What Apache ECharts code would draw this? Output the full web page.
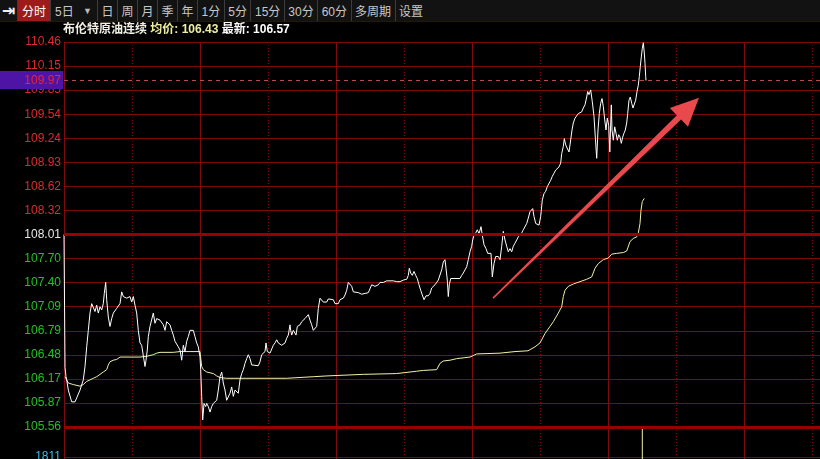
<!DOCTYPE html>
<html lang="zh-CN">
<head>
<meta charset="utf-8">
<title>布伦特原油连续 分时</title>
<script src="https://cdn.jsdelivr.net/npm/echarts@6.0.0/dist/echarts.min.js"></script>
<style>
html,body{margin:0;padding:0;background:#000;overflow:hidden;}
#wrap{position:relative;width:820px;height:459px;overflow:hidden;}
#chart{position:absolute;left:0;top:0;width:820px;height:490px;}
#tb{position:absolute;left:0;top:0;width:820px;height:21px;background:#121212;border-bottom:1px solid #4a0505;display:flex;font-family:"Liberation Sans","Noto Sans CJK SC",sans-serif;font-size:12px;color:#c8c8c8;z-index:5;}
#tb .it{display:flex;align-items:center;padding:0 3.5px;border-left:1px solid #3c3c3c;white-space:nowrap;}
#tb .icon{width:17px;justify-content:center;border-left:none;padding:0;color:#f0f0f0;font-family:"DejaVu Sans";font-size:16px;font-weight:bold;}
#tb .sel{background:#9e1b1b;color:#fff;padding:0 4px;}
#tb .dd{width:37px;padding:0 5px 0 4px;justify-content:space-between;}
#tb .dd i{font-style:normal;font-size:9px;color:#bbb;}
</style>
</head>
<body>
<div id="wrap"><div id="chart"></div><div id="tb"></div></div>
<script>
// ---------------- data ----------------
const TOOLBAR_ITEMS = ['分时','5日','日','周','月','季','年','1分','5分','15分','30分','60分','多周期','设置'];
const TOOLBAR_SELECTED = 0;
const TOOLBAR_DROPDOWN = 1;

const INSTRUMENT = '布伦特原油连续';
const AVG_PRICE = '106.43';
const LATEST_QUOTE = '106.57';
const LAST_PRICE = 109.97;

// price axis tick labels (bottom -> top); index 8 is the reference (previous close) line
const Y_TICKS = ['105.56','105.87','106.17','106.48','106.79','107.09','107.40','107.70','108.01','108.32','108.62','108.93','109.24','109.54','109.85','110.15','110.46'];
const REF_INDEX = 8;

// time axis: bars per trading day, bars visible in window
const BARS_PER_DAY = 136;
const VISIBLE_BARS = 756;

// [bar, price]
const PRICE = [
[0,108.01],[1,106.32],[2,106.20],[2.7,106.16],[4.3,106.03],[7.7,105.88],[11,105.88],[12.7,105.93],[16,106.03],[19.3,106.16],[21,106.33],[22.7,106.58],[24.3,106.79],[26,107.01],[27.7,107.13],[29.3,107.11],[31,107.03],[32.7,107.11],[34.3,107.01],[36,107.09],[37.7,107.05],[39.3,107.13],[40.3,107.26],[41.7,107.40],[42.7,107.18],[44.3,106.96],[46,106.84],[47.7,106.94],[49.3,107.01],[51,107.03],[52.7,107.07],[54.3,107.05],[56,107.13],[57.7,107.28],[59.3,107.22],[61,107.24],[62.7,107.20],[64.3,107.18],[66,107.22],[67.7,107.15],[69.3,107.22],[71,107.11],[72.7,107.01],[74.3,106.79],[76,106.63],[77.7,106.60],[79.3,106.58],[81,106.33],[82,106.41],[83.3,106.54],[84.3,106.71],[86,106.84],[87.7,106.82],[89.3,107.01],[91,106.88],[92.7,106.94],[94.3,106.92],[96,106.92],[99.3,106.86],[101,106.79],[102.7,106.90],[104.3,106.92],[106,106.86],[107.7,106.79],[109.3,106.73],[111,106.65],[112.7,106.67],[114.3,106.58],[116,106.54],[117.7,106.41],[119.3,106.60],[121,106.52],[122.7,106.65],[124.3,106.71],[126,106.79],[129.3,106.79],[131,106.71],[132.7,106.63],[134.3,106.58],[136,106.45],
[136.7,106.29],[137.7,105.95],[138.7,105.65],[140,105.86],[141.7,105.82],[142.7,105.86],[144.3,105.82],[146,105.75],[147.7,105.82],[149.3,105.86],[151,105.84],[152.7,105.90],[154.3,106.03],[156,106.20],[157.7,106.26],[159.3,106.12],[161,106.03],[162.7,105.90],[164.3,105.90],[166,105.99],[167.7,106.07],[169.3,105.95],[171,106.03],[172.7,106.05],[174.3,105.99],[176,106.16],[177.7,106.24],[179.3,106.29],[181,106.37],[182.7,106.43],[184.3,106.48],[186,106.43],[187.7,106.35],[189.3,106.34],[194.3,106.34],[196,106.39],[197.7,106.48],[199.3,106.50],[201,106.52],[202,106.63],[203.3,106.52],[206,106.50],[207.7,106.50],[209.3,106.60],[211,106.63],[212.7,106.67],[214.3,106.63],[216,106.65],[217.7,106.60],[219.3,106.58],[221,106.63],[222.7,106.69],[224.3,106.73],[226,106.86],[226.7,106.79],[227.7,106.73],[229.3,106.79],[231,106.79],[232,106.73],[233.3,106.84],[235.3,106.82],[236,106.86],[237.7,106.90],[239.3,106.92],[241,106.94],[242.7,106.96],[244.3,106.99],[246,106.92],[247.7,106.86],[249.3,106.79],[251,106.77],[252.7,106.84],[254.3,107.07],[256,107.20],[257.7,107.18],[259.3,107.15],[261,107.13],[262.7,107.15],[264.3,107.19],[266,107.18],[269.3,107.18],[271,107.13],[272.7,107.13],
[274.3,107.13],[276,107.18],[277.7,107.20],[279.3,107.20],[281,107.24],[282.7,107.30],[284.3,107.40],[286,107.40],[287.7,107.35],[289.3,107.28],[291,107.27],[294.3,107.27],[297.7,107.25],[299.3,107.27],[301,107.26],[302.7,107.28],[304.3,107.27],[306,107.28],[307.7,107.37],[309.3,107.35],[311,107.35],[312.7,107.37],[314.3,107.37],[316,107.40],[319.3,107.40],[321,107.41],[322.7,107.42],[324.3,107.43],[326,107.42],[327.7,107.41],[329.3,107.42],[331,107.41],[332.7,107.41],[334.3,107.39],[336,107.41],[337.7,107.42],[339.3,107.43],[341,107.43],[342.7,107.44],[344.3,107.49],[345.3,107.58],[346.7,107.52],[348.3,107.49],[350,107.54],[351.7,107.49],[353.3,107.45],[355,107.37],[356.7,107.30],[358.3,107.24],[360,107.18],[362,107.23],[364.3,107.23],[366,107.26],[367.7,107.33],[369.3,107.35],[371,107.37],[372.7,107.39],[374.3,107.43],[376,107.45],[377.7,107.56],[379.3,107.66],[381,107.69],[382,107.58],[383.3,107.43],[384.3,107.22],[385.3,107.37],[386.7,107.45],[396,107.45],[397.7,107.49],[399.3,107.52],[401,107.54],[402.7,107.60],[404.3,107.69],[406,107.79],[407.7,107.86],[408.7,107.94],[410,108.00],[411.7,108.03],[413.3,108.07],[415,108.02],[417,108.11],[418.3,108.00],[420,107.88],[422,107.83],[423.7,107.77],[425.3,107.75],[427,107.77],[428.3,107.47],[430,107.64],[431.7,107.73],[434.3,107.73],[436,107.69],[437.7,107.86],[439.3,108.05],[441,107.94],[442.7,107.86],[444.3,107.79],[446,107.83],[447.7,107.79],[449.3,107.86],[451,107.90],[452.7,107.94],[454.3,107.98],[456,108.00],[457.7,108.03],[459.3,108.07],[461,108.09],[462.7,108.15],[464.3,108.22],[466,108.30],[468.7,108.34],[470,108.24],[471.7,108.15],[473.3,108.13],[475,108.13],[476.7,108.24],[478.3,108.45],[480,108.53],[481.7,108.56],[483.3,108.62],[485,108.64],[486.7,108.70],[488.3,108.75],[490,108.79],[491.7,108.83],[493.3,108.81],[495,108.87],[496.7,108.92],[497.7,109.04],[499.3,109.13],[500.3,109.23],[501.7,109.15],[502.7,109.13],[503.7,109.17],[505,109.06],[506,109.15],[507,109.17],[508,109.34],[509.3,109.43],[511,109.49],[512.7,109.51],[514.3,109.55],[516,109.53],[517.7,109.57],[519.3,109.62],[521,109.66],[522.7,109.76],[523.7,109.83],[525,109.79],[526.7,109.85],[528.3,109.70],[530,109.51],[531.3,109.25],[532.7,108.98],[534,109.34],[535.3,109.55],[536.7,109.68],[538,109.74],[539.3,109.64],[540.7,109.47],[542,109.34],[543.3,109.49],[544.7,109.40],[545.5,109.15],[545.8,109.06],[547.3,109.66],[548,109.34],[549.3,109.21],[550.7,109.38],[552,109.30],[553.3,109.21],[554.7,109.28],[556,109.25],[557.3,109.17],[558.7,109.25],[560,109.30],[561.3,109.34],[562.7,109.43],[563.7,109.55],[565,109.72],[566.3,109.76],[567.7,109.68],[569,109.62],[570.3,109.64],[571.7,109.72],[573,109.83],[574.3,109.91],[575.3,110.02],[576.3,110.15],[577.3,110.27],[578.3,110.38],[579.3,110.45],[580.3,110.32],[581,110.19],[581.7,110.02],[582,109.97]
];

// [bar, average price]
const AVG = [
[1,106.20],[4.3,106.12],[9.3,106.10],[16,106.08],[19.3,106.10],[22.7,106.14],[26,106.16],[29.3,106.18],[32.7,106.20],[36,106.23],[39.3,106.26],[42.7,106.29],[44.3,106.35],[46,106.39],[49.3,106.41],[52.7,106.42],[56,106.45],[76,106.45],[82.7,106.46],[89.3,106.48],[92.7,106.50],[96,106.51],[109.3,106.51],[116,106.52],[136,106.52],
[137.7,106.33],[139.3,106.29],[142.7,106.26],[149.3,106.24],[152.7,106.21],[156,106.19],[162.7,106.18],[222.7,106.18],[249.3,106.20],[262.7,106.21],[299.3,106.23],[332.7,106.24],[346,106.26],[352.7,106.27],[359.3,106.28],[372.7,106.29],[376,106.37],[379.3,106.40],[386,106.41],[392.7,106.43],[406,106.45],[412.7,106.49],[436,106.50],[451,106.52],[464,106.53],[471,106.58],[476,106.63],[481,106.75],[486,106.84],[489.3,106.90],[494.3,107.01],[497.7,107.09],[499.3,107.22],[501,107.30],[504.3,107.35],[509.3,107.38],[516,107.41],[522.7,107.44],[527.7,107.47],[531,107.58],[534.3,107.64],[539.3,107.69],[544.3,107.71],[547.7,107.76],[552.7,107.77],[559.3,107.78],[562.7,107.80],[566,107.92],[569.3,107.96],[572.7,107.98],[574.3,108.03],[576,108.15],[577,108.32],[578.3,108.43],[580.3,108.47]
];

// [bar, volume]
const VOLUME = [[578.3, 3622]];

// annotation arrow [bar, price]: tail and tip
const ARROW_FROM = [429, 107.20];
const ARROW_TO = [635, 109.75];

// ---------------- toolbar ----------------
const tb = document.getElementById('tb');
const icon = document.createElement('div');
icon.className = 'it icon'; icon.textContent = '⇥';
tb.appendChild(icon);
TOOLBAR_ITEMS.forEach((label, i) => {
  const d = document.createElement('div');
  d.className = 'it' + (i === TOOLBAR_SELECTED ? ' sel' : '') + (i === TOOLBAR_DROPDOWN ? ' dd' : '');
  if (i === TOOLBAR_DROPDOWN) {
    const s = document.createElement('span'); s.textContent = label;
    const a = document.createElement('i'); a.textContent = '▼';
    d.appendChild(s); d.appendChild(a);
  } else d.textContent = label;
  tb.appendChild(d);
});

// ---------------- chart ----------------
const FONT = '"Liberation Sans", "Noto Sans CJK SC", sans-serif';
const GRID = '#7e0a0d';
const chart = echarts.init(document.getElementById('chart'), null, {renderer: 'canvas'});
const volMax = Math.max.apply(null, VOLUME.map(d => d[1]));
const tickVals = Y_TICKS.map(Number);

function xAxisDef(gridIndex, interval, dotted) {
  return {
    type: 'value', gridIndex, min: 0, max: VISIBLE_BARS, interval,
    axisLine: {show: false}, axisTick: {show: false}, axisLabel: {show: false},
    splitLine: {show: true, lineStyle: {color: GRID, width: 1, type: dotted ? [1, 2] : 'solid'}}
  };
}

const option = {
  backgroundColor: '#000',
  animation: false,
  title: {
    text: `{n|${INSTRUMENT}} {a|均价: ${AVG_PRICE}} {l|最新: ${LATEST_QUOTE}}`,
    left: 63, top: 24, padding: 0,
    textStyle: {
      fontSize: 12, fontFamily: FONT, color: '#eee',
      rich: {
        n: {color: '#f0f0e4', fontSize: 12, fontFamily: FONT},
        a: {color: '#eeeea2', fontSize: 12, fontFamily: FONT},
        l: {color: '#ffffff', fontSize: 12, fontFamily: FONT}
      }
    }
  },
  grid: [
    {left: 64, right: 0, top: 42, height: 385},
    {left: 64, right: 0, top: 427, height: 60}
  ],
  xAxis: [
    xAxisDef(0, BARS_PER_DAY / 2, true),
    xAxisDef(0, BARS_PER_DAY, false),
    xAxisDef(1, BARS_PER_DAY / 2, true),
    xAxisDef(1, BARS_PER_DAY, false)
  ],
  yAxis: [
    {type: 'value', gridIndex: 0, min: tickVals[0], max: tickVals[tickVals.length - 1], show: false},
    {
      type: 'value', gridIndex: 0, min: 0, max: Y_TICKS.length - 1, interval: 1, position: 'left', offset: 1,
      axisLine: {show: true, lineStyle: {color: GRID}},
      axisTick: {show: false},
      axisLabel: {
        margin: 2, fontSize: 12, fontFamily: FONT,
        formatter: v => Y_TICKS[v],
        color: v => (Number(v) > REF_INDEX ? '#dd2a2e' : Number(v) === REF_INDEX ? '#e6e6e6' : '#22c126')
      },
      splitLine: {show: true, lineStyle: {color: GRID, width: 1}}
    },
    {
      type: 'value', gridIndex: 1, min: 0, max: volMax, interval: volMax / 2, position: 'left', offset: 1,
      axisLine: {show: true, lineStyle: {color: GRID}},
      axisTick: {show: false},
      axisLabel: {margin: 2, fontSize: 12, fontFamily: FONT, color: '#3cbfe8', showMaxLabel: false, showMinLabel: false,
        formatter: v => String(v)},
      splitLine: {show: true, lineStyle: {color: GRID, width: 1}}
    }
  ],
  series: [
    {
      name: '均价', type: 'line', xAxisIndex: 0, yAxisIndex: 0, z: 3,
      data: AVG, showSymbol: false, symbol: 'none',
      lineStyle: {color: '#f2f0a6', width: 1},
      markLine: {
        silent: true, symbol: 'none', label: {show: false}, animation: false,
        data: [
          {yAxis: tickVals[REF_INDEX], lineStyle: {color: '#960000', width: 3, type: 'solid'}},
          {yAxis: tickVals[0], lineStyle: {color: '#960000', width: 3, type: 'solid'}},
          {yAxis: LAST_PRICE, lineStyle: {color: '#b84a4a', width: 1, type: [4, 4]}}
        ]
      }
    },
    {
      name: '价格', type: 'line', xAxisIndex: 0, yAxisIndex: 0, z: 4,
      data: PRICE, showSymbol: false, symbol: 'none',
      lineStyle: {color: '#ffffff', width: 1}
    },
    {
      name: '成交量', type: 'bar', xAxisIndex: 2, yAxisIndex: 2,
      data: VOLUME, barWidth: 1, itemStyle: {color: '#f2f0a6'}
    }
  ]
};
chart.setOption(option);

// last-price tag on the axis and annotation arrow, positioned through the chart's own scales
const py = chart.convertToPixel({yAxisIndex: 0}, LAST_PRICE);
const p0 = chart.convertToPixel({xAxisIndex: 0, yAxisIndex: 0}, ARROW_FROM);
const p1 = chart.convertToPixel({xAxisIndex: 0, yAxisIndex: 0}, ARROW_TO);
const dx = p1[0] - p0[0], dy = p1[1] - p0[1], len = Math.hypot(dx, dy);
const ux = dx / len, uy = dy / len, nx = -uy, ny = ux;
const headLen = 28, headW = 26, neckW = 6, tailW = 1.5;
const neck = [p1[0] - ux * headLen, p1[1] - uy * headLen];
const arrowPts = [
  [p0[0] + nx * tailW / 2, p0[1] + ny * tailW / 2],
  [neck[0] + nx * neckW / 2, neck[1] + ny * neckW / 2],
  [neck[0] + nx * headW / 2, neck[1] + ny * headW / 2],
  [p1[0], p1[1]],
  [neck[0] - nx * headW / 2, neck[1] - ny * headW / 2],
  [neck[0] - nx * neckW / 2, neck[1] - ny * neckW / 2],
  [p0[0] - nx * tailW / 2, p0[1] - ny * tailW / 2]
];
chart.setOption({
  graphic: [
    {type: 'polygon', z: 90, shape: {points: arrowPts}, style: {fill: '#e9494d'}},
    {type: 'rect', z: 100, shape: {x: 0, y: Math.round(py) - 9, width: 63, height: 18}, style: {fill: '#4d14a6'}},
    {type: 'text', z: 101, x: 61, y: py, style: {text: LAST_PRICE.toFixed(2), fill: '#e8262c', font: '12px ' + FONT, align: 'right', verticalAlign: 'middle'}}
  ]
});
</script>
</body>
</html>
